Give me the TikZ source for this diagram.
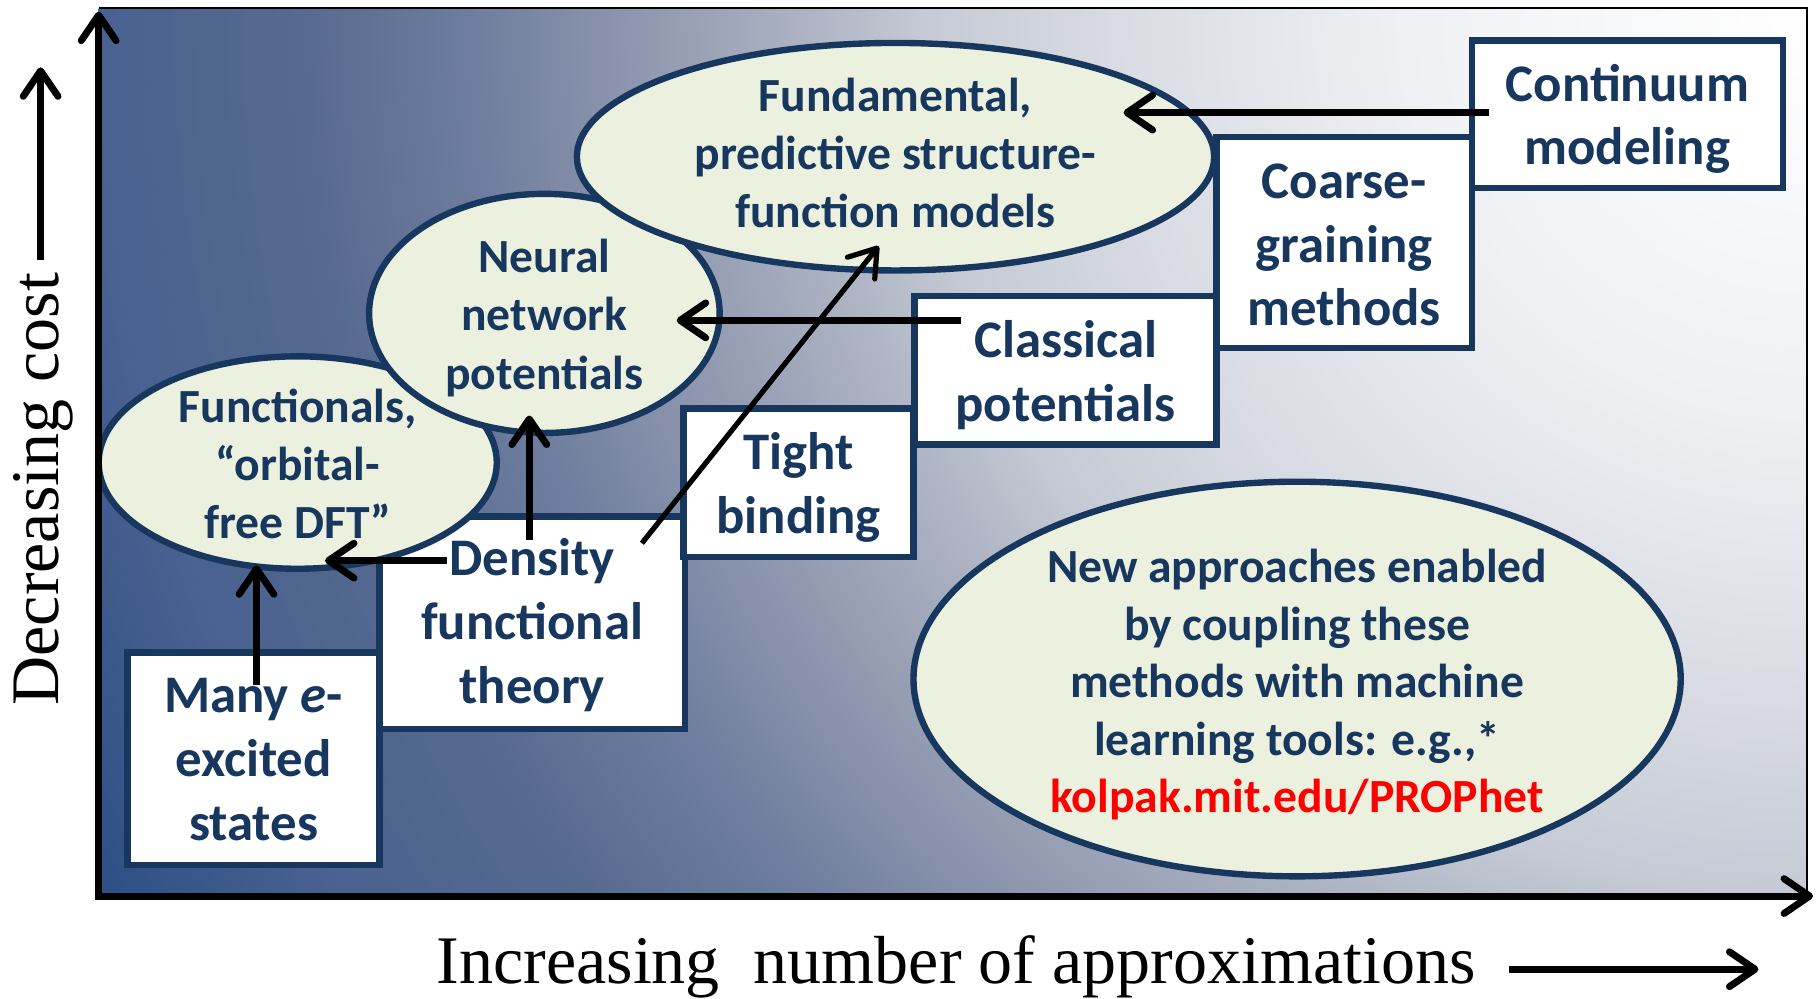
\documentclass[tikz,border=0pt]{standalone}
\usepackage{fontspec}
\usetikzlibrary{arrows.meta,shapes.geometric,calc}
\newfontfamily\calfont{Carlito}
\newfontfamily\axfont{Liberation Serif}
\definecolor{navy}{HTML}{17375E}
\definecolor{efill}{HTML}{EBF1DE}
\definecolor{bgA}{HTML}{FFFFFF}
\definecolor{bgB}{HTML}{EEF0F3}
\definecolor{bgC}{HTML}{D8DBE3}
\definecolor{bgD}{HTML}{C5CAD4}
\definecolor{bgE}{HTML}{B0B6C5}
\definecolor{bgF}{HTML}{9199B0}
\definecolor{bgG}{HTML}{6F7E9E}
\definecolor{bgH}{HTML}{56698F}
\definecolor{bgI}{HTML}{4A6290}
\definecolor{bgJ}{HTML}{2C4F85}
\definecolor{bgK}{HTML}{2A4D84}
\pgfdeclareradialshading{bgrad}{\pgfpoint{0bp}{0bp}}{color(0bp)=(bgA); color(5.15bp)=(bgB); color(8.8bp)=(bgC); color(11.2bp)=(bgD); color(12.5bp)=(bgE); color(14.7bp)=(bgF); color(16.9bp)=(bgG); color(19.1bp)=(bgH); color(21.6bp)=(bgI); color(24.4bp)=(bgJ); color(25bp)=(bgK); color(50bp)=(bgK)}
\begin{document}
\begin{tikzpicture}[x=1pt,y=-1pt,
  box/.style={draw=navy, line width=5.5pt, fill=white, inner sep=0pt},
  btxt/.style={text=navy, font=\calfont\bfseries\fontsize{45.5}{55}\selectfont, align=center, inner sep=0pt},
  ell/.style={ellipse, draw=navy, line width=5.5pt, fill=efill, inner sep=0pt},
  etxt/.style={text=navy, font=\calfont\bfseries\fontsize{41}{50}\selectfont, align=center, inner sep=0pt},
  arr/.style={line width=6pt, -{Straight Barb[length=22pt,width=30pt,round]}},
  axis/.style={line width=6pt, -{Straight Barb[length=22pt,width=30pt,round]}},
  axlabel/.style={font=\axfont\fontsize{58.6}{60}\selectfont, inner sep=0pt}
]
\useasboundingbox (0,0) rectangle (1568,860);
\fill[white] (0,0) rectangle (1568,860);
% background gradient
\begin{scope}
  \clip (85,7) rectangle (1557,772);
  \shade[shading=bgrad] (1557,7) circle[radius=1700pt];
\end{scope}
\coordinate (O) at (85,772);
\coordinate (TL) at (85,7);
\coordinate (TR) at (1557,7);
\coordinate (BR) at (1557,772);
\coordinate (Ytip) at (85,10);
\coordinate (Xtip) at (1562,772);
\draw[line width=2pt] (TL) -- (TR) -- (BR);
% boxes
\node[box, minimum width=217pt, minimum height=183pt] (many) at (218.5,653.5) {};
\node[btxt] at ($(many)+(0,1)$) {Many \textit{e}-\\excited\\states};
\node[box, minimum width=263pt, minimum height=183pt] (dft) at (458.5,536.5) {};
\node[btxt] at ($(dft)+(0,2)$) {Density\\functional\\theory};
\node[box, minimum width=198pt, minimum height=128pt] (tight) at (688,416) {};
\node[btxt] at ($(tight)+(0,4)$) {Tight\\binding};
\node[box, minimum width=260pt, minimum height=128pt] (classical) at (918,319) {};
\node[btxt] at ($(classical)+(0,4)$) {Classical\\potentials};
\node[box, minimum width=220pt, minimum height=182pt] (coarse) at (1158,209) {};
\node[btxt] at ($(coarse)+(0,2)$) {Coarse-\\graining\\methods};
\node[box, minimum width=268pt, minimum height=127pt] (continuum) at (1402,98.5) {};
\node[btxt] at ($(continuum)+(0,4)$) {Continuum\\modeling};
% ellipses
\node[ell, minimum width=343pt, minimum height=183pt] (func) at (256.5,398.5) {};
\node[etxt] at ($(func)+(0,1)$) {Functionals,\\“orbital-\\free DFT”};
\node[ell, minimum width=302pt, minimum height=206pt] (neural) at (469,270) {};
\node[etxt] at ($(neural)+(0,4)$) {Neural\\network\\potentials};
\node[ell, minimum width=549pt, minimum height=196pt] (fund) at (771.5,135) {};
\node[etxt] at ($(fund)+(0,-3)$) {Fundamental,\\predictive structure-\\function models};
\node[ell, minimum width=661pt, minimum height=340pt] (new) at (1117.5,585) {};
\node[etxt, font=\calfont\bfseries\fontsize{41}{49.5}\selectfont] at ($(new)+(0,5)$) {New approaches enabled\\by coupling these\\methods with machine\\learning tools: e.g.,*\\\textcolor{red}{kolpak.mit.edu/PROPhet}};
% axes
\draw[axis] (85,775) -- (Ytip);
\draw[axis] (82,772) -- (Xtip);
% connectors
\draw[arr] ($(many)+(2.5,-63.5)$) -- ($(func)+(-35.5,88.5)$);
\draw[arr] ($(dft)+(-73.5,-53.5)$) -- ($(func)+(23.5,84.5)$);
\draw[arr] ($(dft)+(-2.5,-71.5)$) -- ($(neural)+(-13,88)$);
\draw[arr, line width=4.5pt] ($(dft)+(94.5,-68.5)$) -- ($(fund)+(-14.5,77)$);
\draw[arr] ($(classical)+(-90,-43)$) -- ($(neural)+(114,6)$);
\draw[arr] ($(continuum)+(-119,-1.5)$) -- ($(fund)+(196.5,-38)$);
% axis labels
\node[axlabel, rotate=90, anchor=base west] (ylab) at (50,608) {Decreasing cost};
\coordinate (ya) at (35,224);
\coordinate (yb) at (35,58);
\draw[axis] (ya) -- (yb);
\node[axlabel, anchor=base west] (xlab) at (376,847) {Increasing\ \ number of approximations};
\coordinate (xa) at (1300,835);
\coordinate (xb) at (1515,835);
\draw[axis] (xa) -- (xb);
\end{tikzpicture}
\end{document}
